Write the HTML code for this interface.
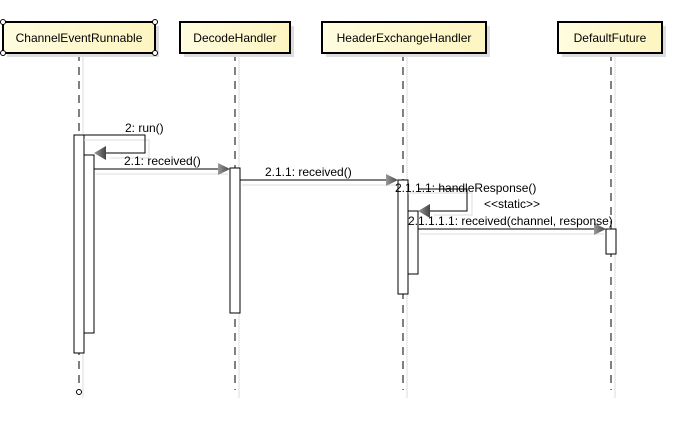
<!DOCTYPE html>
<html><head><style>
body{margin:0;background:#fff;}
svg text{font-family:"Liberation Sans",sans-serif;font-size:12px;fill:#000;}
</style></head><body>
<svg width="687" height="433" xmlns="http://www.w3.org/2000/svg">
<defs>
<linearGradient id="g" x1="0" y1="0" x2="1" y2="0"><stop offset="0" stop-color="#fffce0"/><stop offset="1" stop-color="#fdf5c0"/></linearGradient>
<linearGradient id="ah" x1="0" y1="0" x2="1" y2="0"><stop offset="0" stop-color="#999"/><stop offset="1" stop-color="#444"/></linearGradient>
</defs>
<g stroke="#ddd" stroke-width="1">
<line x1="83" y1="55" x2="83" y2="398"/><line x1="239" y1="55" x2="239" y2="398"/>
<line x1="407" y1="55" x2="407" y2="398"/><line x1="615" y1="55" x2="615" y2="398"/>
</g>
<g stroke="#000" stroke-dasharray="8,6">
<line x1="79" y1="53" x2="79" y2="389"/><line x1="235" y1="53" x2="235" y2="390"/>
<line x1="403" y1="53" x2="403" y2="390"/><line x1="611" y1="53" x2="611" y2="390"/>
</g>
<circle cx="79" cy="392" r="2.5" fill="#fff" stroke="#000"/>
<g fill="#ddd"><rect x="7" y="26" width="152" height="31"/><rect x="184" y="26" width="110" height="31"/><rect x="326" y="26" width="164" height="31"/><rect x="562" y="26" width="104" height="31"/></g>
<g fill="url(#g)" stroke="#000" stroke-width="2">
<rect x="3" y="22" width="152" height="31"/><rect x="180" y="22" width="110" height="31"/><rect x="322" y="22" width="164" height="31"/><rect x="558" y="22" width="104" height="31"/></g>
<g fill="#fff" stroke="#000"><circle cx="3" cy="22" r="2.5"/><circle cx="155" cy="22" r="2.5"/><circle cx="3" cy="53" r="2.5"/><circle cx="155" cy="53" r="2.5"/></g>
<text x="79" y="42" text-anchor="middle">ChannelEventRunnable</text>
<text x="235" y="42" text-anchor="middle">DecodeHandler</text>
<text x="404" y="42" text-anchor="middle">HeaderExchangeHandler</text>
<text x="610" y="42" text-anchor="middle">DefaultFuture</text>
<g fill="#fff" stroke="#000">
<rect x="74" y="135" width="10" height="218"/><rect x="84" y="155" width="10" height="178"/>
<rect x="230" y="168" width="10" height="145"/>
<rect x="398" y="180" width="10" height="114"/><rect x="408" y="211" width="10" height="63"/>
<rect x="606" y="229" width="10" height="25"/>
</g>
<g stroke="#ddd" fill="none">
<polyline points="84,140 149,140 149,158 110,158"/>
<line x1="96" y1="174" x2="228" y2="174"/><line x1="242" y1="185" x2="396" y2="185"/>
<polyline points="408,193 472,193 472,215 434,215"/>
<line x1="420" y1="234" x2="604" y2="234"/>
</g>
<g stroke="#000" fill="none">
<polyline points="84,135 145,135 145,153 104,153"/>
<line x1="94" y1="169" x2="222" y2="169"/><line x1="240" y1="180" x2="388" y2="180"/>
<polyline points="418,189 467,189 467,211 428,211"/>
<line x1="418" y1="229" x2="597" y2="229"/>
</g>
<g fill="url(#ah)">
<polygon points="94,153 106,146 106,160"/>
<polygon points="230,169 218,163 218,175"/>
<polygon points="398,180 386,174 386,186"/>
<polygon points="418,211 430,204 430,218"/>
<polygon points="606,229 594,223 594,235"/>
</g>
<text x="125" y="132">2: run()</text>
<text x="124" y="165">2.1: received()</text>
<text x="265" y="176">2.1.1: received()</text>
<text x="395" y="192">2.1.1.1: handleResponse()</text>
<text x="484" y="208" font-size="11">&lt;&lt;static&gt;&gt;</text>
<text x="408" y="225">2.1.1.1.1: received(channel, response)</text>
</svg>
</body></html>
